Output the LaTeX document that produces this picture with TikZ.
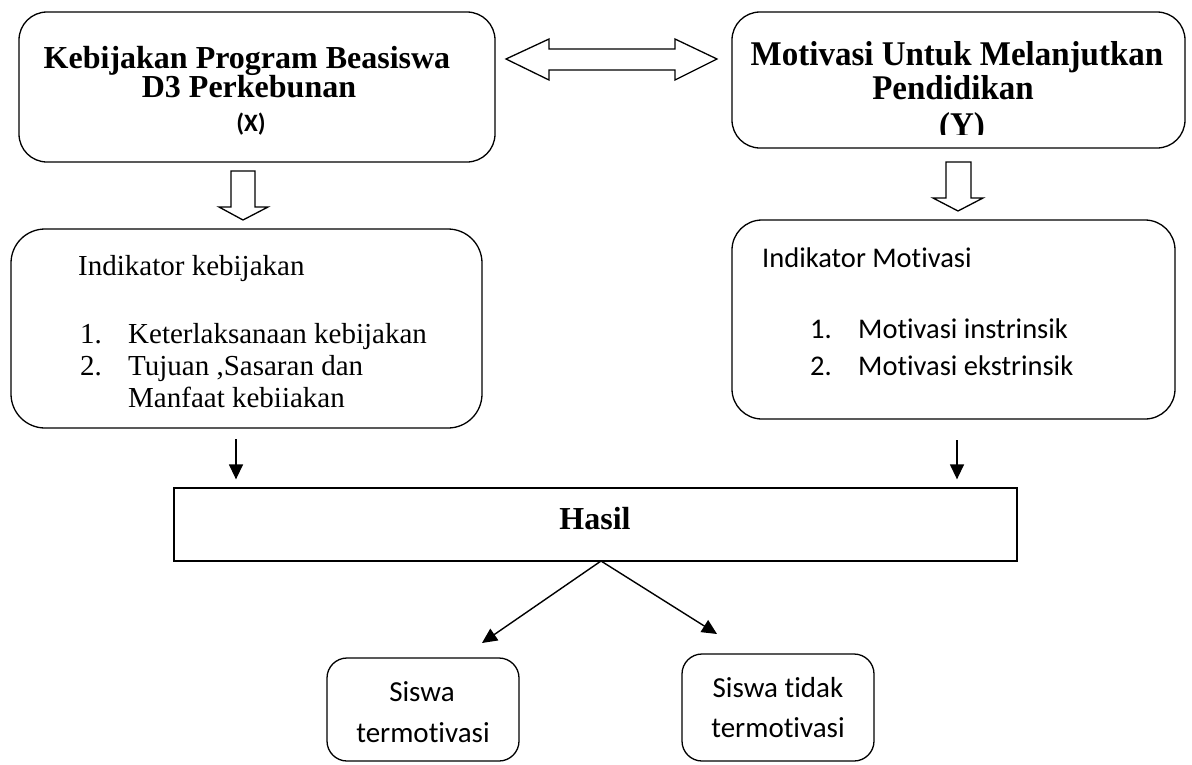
\documentclass[tikz,border=0pt]{standalone}
\usepackage{fontspec}
\setmainfont{Liberation Serif}
\newfontfamily\calfont[Ligatures={NoCommon,NoRequired,NoContextual,NoDiscretionary}]{Carlito}
\usetikzlibrary{arrows.meta}
\begin{document}
\begin{tikzpicture}[x=1pt,y=-1pt,
  rbox/.style={draw, line width=1.3pt, rounded corners=#1, inner sep=0pt},
  sbox/.style={draw, line width=1.3pt, inner sep=0pt},
  blockarrow/.style={draw, line width=1.3pt, line join=miter, fill=white},
  sarrow/.style={line width=1.4pt, -{Triangle[length=15pt,width=14pt]}},
  txt/.style={inner sep=0pt, anchor=base},
  txtl/.style={inner sep=0pt, anchor=base west},
  titlefont/.style={font=\bfseries\fontsize{32}{32}\selectfont},
  ytitlefont/.style={font=\bfseries\fontsize{33}{33}\selectfont},
  serif/.style={font=\fontsize{29}{32}\selectfont},
  sans/.style={font=\calfont\fontsize{28.5}{32}\selectfont},
  bsans/.style={font=\calfont\fontsize{29}{32}\selectfont},
]
\useasboundingbox[fill=white] (0,0) rectangle (1192,764);

% main boxes
\node[rbox=28pt, minimum width=476pt, minimum height=150pt] (X) at (257,87) {};
\node[rbox=28pt, minimum width=453pt, minimum height=136pt] (Y) at (958.5,80) {};
\node[rbox=34pt, minimum width=471pt, minimum height=199pt] (IX) at (246.5,328.5) {};
\node[rbox=30pt, minimum width=443pt, minimum height=199pt] (IY) at (953.5,319.5) {};
\node[sbox, minimum width=843pt, minimum height=73pt] (H) at (595.5,524.5) {};
\node[rbox=20pt, minimum width=192pt, minimum height=103pt] (S1) at (423,709.5) {};
\node[rbox=20pt, minimum width=192pt, minimum height=107pt] (S2) at (778,707.5) {};

% texts of X
\node[txt, titlefont] (xt1) at (247,68) {Kebijakan Program Beasiswa};
\node[txt, titlefont] (xt2) at (249,97) {D3 Perkebunan};
\node[txt, font=\calfont\bfseries\fontsize{25}{25}\selectfont] (xt3) at (251,131) {(X)};

% texts of Y
\node[txt, ytitlefont] (yt1) at (957,65) {\scalebox{1}[1.05]{Motivasi Untuk Melanjutkan}};
\node[txt, ytitlefont] (yt2) at (953,99) {\scalebox{1}[1.05]{Pendidikan}};
\begin{scope}
\clip (900,100) rectangle (1020,134);
\node[txt, ytitlefont] (yt3) at (962,136) {\scalebox{1}[1.05]{(Y)}};
\end{scope}

% texts of IX
\node[txtl, serif] (ixt0) at (78,275) {Indikator kebijakan};
\node[txtl, serif] (ixn1) at (80,343) {1.};
\node[txtl, serif] (ixi1) at (128,343) {Keterlaksanaan kebijakan};
\node[txtl, serif] (ixn2) at (80,375) {2.};
\node[txtl, serif] (ixi2) at (128,375) {Tujuan ,Sasaran dan};
\node[txtl, serif] (ixi3) at (128,407) {Manfaat kebiiakan};

% texts of IY
\node[txtl, sans] (iyt0) at (762,267) {Indikator Motivasi};
\node[txtl, sans] (iyn1) at (810,338) {1.};
\node[txtl, sans] (iyi1) at (858,338) {Motivasi instrinsik};
\node[txtl, sans] (iyn2) at (810,375) {2.};
\node[txtl, sans] (iyi2) at (858,375) {Motivasi ekstrinsik};

% Hasil
\node[txt, titlefont] (ht) at (595,529) {Hasil};

% bottom boxes texts
\node[txt, bsans] (s1a) at (422,701) {Siswa};
\node[txt, bsans] (s1b) at (423,742) {termotivasi};
\node[txt, bsans] (s2a) at (778,697) {Siswa tidak};
\node[txt, bsans] (s2b) at (778,737) {termotivasi};

% double block arrow between X and Y
\draw[blockarrow] (506,59) -- (549,39) -- (549,49) -- (675,49) -- (675,39) -- (717,59)
  -- (675,80) -- (675,70) -- (549,70) -- (549,80) -- cycle;

% block arrows down
\draw[blockarrow] (231,171) -- (255,171) -- (255,207) -- (268,207) -- (243,220) -- (219,207) -- (231,207) -- cycle;
\draw[blockarrow] (946,162) -- (971,162) -- (971,198) -- (983,198) -- (958,211) -- (933,198) -- (946,198) -- cycle;

% small arrows to Hasil
\coordinate (a1) at (236,439);
\coordinate (a2) at (957,440);
\draw[sarrow, shorten >=8pt] (a1) -- (a1 |- H.north);
\draw[sarrow, shorten >=8pt] (a2) -- (a2 |- H.north);

% diagonal arrows
\coordinate (hs) at (601,561);
\coordinate (t1) at (482,643);
\coordinate (t2) at (717,634);
\draw[sarrow] (hs) -- (t1);
\draw[sarrow] (hs) -- (t2);
\end{tikzpicture}
\end{document}
